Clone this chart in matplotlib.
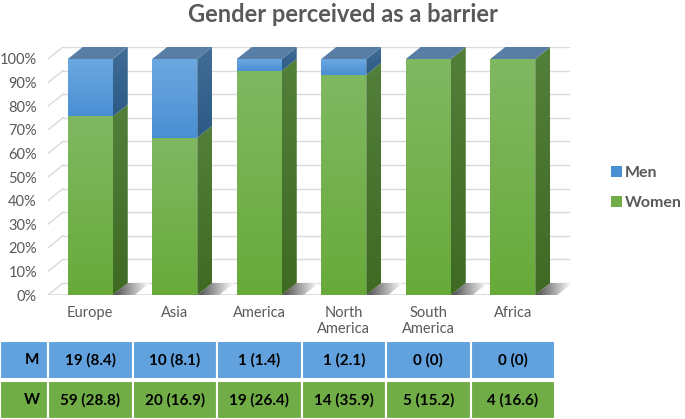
import matplotlib
matplotlib.use("Agg")
import matplotlib.pyplot as plt
import numpy as np
from matplotlib.colors import LinearSegmentedColormap
from matplotlib.patches import Polygon, Rectangle, Patch

plt.rcParams["font.family"] = ["Lato", "DejaVu Sans"]

categories = ["Europe", "Asia", "America", "North\nAmerica", "South\nAmerica", "Africa"]
men_n = [19, 10, 1, 1, 0, 0]
men_pct = [8.4, 8.1, 1.4, 2.1, 0, 0]
women_n = [59, 20, 19, 14, 5, 4]
women_pct = [28.8, 16.9, 26.4, 35.9, 15.2, 16.6]
yticks = list(range(0, 101, 10))

GRAY = "#595959"
GRID = "#d9d9d9"
GREEN_FRONT = ("#80b862", "#68aa3a")
GREEN_SIDE = ("#527f3a", "#3e6a24")
BLUE_FRONT = ("#6ca8e0", "#4a8fd4")
BLUE_SIDE = ("#416d96", "#2c5a86")
TOP = "#587ea6"
M_ROW = "#60a1de"
W_ROW = "#70ad47"

W, H = 685, 419
PX_X = 84.5          # px per category
PX_Y = 2.36          # px per percent
DX = 15 / PX_X       # depth offset (data units)
DY = 12 / PX_Y
HW = 22.5 / PX_X     # bar half width

fig = plt.figure(figsize=(W / 100, H / 100), dpi=100)
x_left, y_floor = 48, 295
ax = fig.add_axes([x_left / W, (H - y_floor) / H,
                   (570 - x_left) / W, (y_floor - 47) / H])
xlim = (-0.5, 5.5 + DX)
ylim = (0, 100 + DY)


def grad_fill(verts, c_top, c_bot, z, horizontal=False):
    poly = Polygon(verts, closed=True, facecolor="none", edgecolor="none", zorder=z)
    ax.add_patch(poly)
    xs = [v[0] for v in verts]
    ys = [v[1] for v in verts]
    cmap = LinearSegmentedColormap.from_list("g", [c_bot, c_top])
    g = np.linspace(0, 1, 64)
    arr = g.reshape(1, -1) if horizontal else g.reshape(-1, 1)
    img = ax.imshow(arr, extent=[min(xs), max(xs), min(ys), max(ys)], origin="lower",
                    cmap=cmap, aspect="auto", zorder=z, interpolation="bilinear")
    img.set_clip_path(poly)


# back wall gridlines and left wall diagonals
for v in yticks:
    ax.plot([-0.5 + DX, 5.5 + DX], [v + DY, v + DY], color=GRID, lw=1, zorder=1)
    ax.plot([-0.5, -0.5 + DX], [v, v + DY], color=GRID, lw=1, zorder=1)
# floor front edge
ax.plot([-0.5, 5.5, 5.5 + DX], [0, 0, DY], color=GRID, lw=1.2, zorder=1)

# floor shadows
for i in range(len(categories)):
    x0 = i + HW
    sh = [(x0, 0), (x0 + 0.26, 0), (x0 + 0.26 + DX, DY), (x0 + DX, DY)]
    grad_fill(sh, "#ffffff", "#4a4a4a", 2, horizontal=True)

# bars
for i in range(len(categories)):
    tot = men_n[i] + women_n[i]
    w_share = women_n[i] / tot * 100
    segs = [(0, w_share, GREEN_FRONT, GREEN_SIDE), (w_share, 100, BLUE_FRONT, BLUE_SIDE)]
    for y0, y1, front, side in segs:
        if y1 - y0 <= 0:
            continue
        grad_fill([(i - HW, y0), (i + HW, y0), (i + HW, y1), (i - HW, y1)], front[0], front[1], 3)
        grad_fill([(i + HW, y0), (i + HW + DX, y0 + DY), (i + HW + DX, y1 + DY), (i + HW, y1)],
                  side[0], side[1], 3)
    ax.add_patch(Polygon([(i - HW, 100), (i + HW, 100), (i + HW + DX, 100 + DY), (i - HW + DX, 100 + DY)],
                         closed=True, facecolor=TOP, edgecolor="none", zorder=4))

ax.set_xlim(*xlim)
ax.set_ylim(*ylim)
for s in ax.spines.values():
    s.set_visible(False)
ax.set_yticks(yticks, [f"{v}%" for v in yticks])
ax.set_xticks(range(len(categories)), categories)
ax.tick_params(axis="y", length=0, pad=8, labelsize=10.5, labelcolor=GRAY)
ax.tick_params(axis="x", length=0, pad=8, labelsize=10.5, labelcolor=GRAY)

# data table below the chart
rows = [("M", men_n, men_pct, M_ROW, (-19.5, -35.6)), ("W", women_n, women_pct, W_ROW, (-36.4, -52.6))]
for lab, ns, ps, col, (ya, yb) in rows:
    ax.add_patch(Rectangle((-1.07, yb), 0.57, ya - yb, facecolor=col, edgecolor="white",
                           lw=1.5, clip_on=False, zorder=5))
    ax.text(-0.6, (ya + yb) / 2, lab, ha="right", va="center", fontsize=11,
            fontweight="bold", color="black", zorder=6)
    for i, (n, p) in enumerate(zip(ns, ps)):
        ax.add_patch(Rectangle((i - 0.5, yb), 1, ya - yb, facecolor=col, edgecolor="white",
                               lw=1.5, clip_on=False, zorder=5))
        ax.text(i, (ya + yb) / 2, f"{n} ({p:g})", ha="center", va="center", fontsize=11,
                fontweight="bold", color="black", zorder=6)

fig.text(343 / W, 1 - 15 / H, "Gender perceived as a barrier", ha="center", va="center",
         fontsize=17, fontweight="bold", color=GRAY)

handles = [Patch(facecolor=BLUE_FRONT[1]), Patch(facecolor=W_ROW)]
fig.legend(handles, ["Men", "Women"], loc="center left", bbox_to_anchor=(603 / W, 1 - 188 / H),
           frameon=False, borderpad=0, handlelength=0.7, handleheight=0.7, handletextpad=0.15,
           labelspacing=0.95, prop={"size": 11.5, "weight": "bold"}, labelcolor=GRAY)

fig.savefig("out.png", dpi=100)
